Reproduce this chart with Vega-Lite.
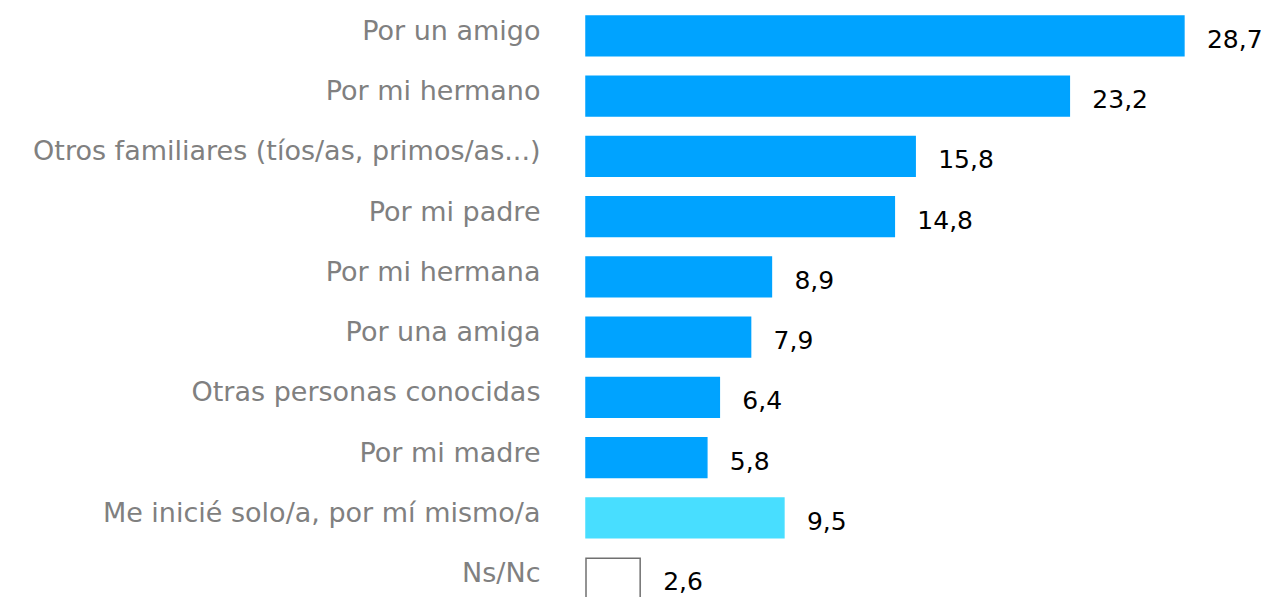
{
  "$schema": "https://vega.github.io/schema/vega-lite/v6.json",
  "autosize": {"type": "none"},
  "width": 625,
  "height": 602.5,
  "padding": {"left": 586, "top": 5.75, "right": 53, "bottom": 0},
  "background": "white",
  "config": {
    "view": {"stroke": null},
    "locale": {"number": {"decimal": ",", "thousands": ".", "grouping": [3], "currency": ["", " €"]}}
  },
  "data": {
    "values": [
      {"categoria": "Por un amigo", "valor": 28.7, "tipo": "persona"},
      {"categoria": "Por mi hermano", "valor": 23.2, "tipo": "persona"},
      {"categoria": "Otros familiares (tíos/as, primos/as...)", "valor": 15.8, "tipo": "persona"},
      {"categoria": "Por mi padre", "valor": 14.8, "tipo": "persona"},
      {"categoria": "Por mi hermana", "valor": 8.9, "tipo": "persona"},
      {"categoria": "Por una amiga", "valor": 7.9, "tipo": "persona"},
      {"categoria": "Otras personas conocidas", "valor": 6.4, "tipo": "persona"},
      {"categoria": "Por mi madre", "valor": 5.8, "tipo": "persona"},
      {"categoria": "Me inicié solo/a, por mí mismo/a", "valor": 9.5, "tipo": "solo"},
      {"categoria": "Ns/Nc", "valor": 2.6, "tipo": "nsnc"}
    ]
  },
  "encoding": {
    "y": {
      "field": "categoria",
      "type": "nominal",
      "sort": null,
      "scale": {"paddingInner": 0.344, "paddingOuter": 0.172},
      "axis": {
        "title": null,
        "domain": false,
        "ticks": false,
        "labelPadding": 46,
        "labelFont": "DejaVu Sans",
        "labelFontSize": 27,
        "labelColor": "#808080",
        "labelBaseline": "alphabetic",
        "labelOffset": 4,
        "labelLimit": 700
      }
    },
    "x": {
      "field": "valor",
      "type": "quantitative",
      "scale": {"domain": [0, 30], "nice": false},
      "axis": null
    }
  },
  "layer": [
    {
      "mark": {"type": "bar", "strokeWidth": 1.5},
      "encoding": {
        "fill": {
          "field": "tipo",
          "type": "nominal",
          "scale": {"domain": ["persona", "solo", "nsnc"], "range": ["#00a3ff", "#48deff", "#ffffff"]},
          "legend": null
        },
        "stroke": {
          "field": "tipo",
          "type": "nominal",
          "scale": {"domain": ["persona", "solo", "nsnc"], "range": ["#00a3ff", "#48deff", "#707070"]},
          "legend": null
        }
      }
    },
    {
      "mark": {
        "type": "text",
        "align": "left",
        "baseline": "alphabetic",
        "dx": 23,
        "dy": 12,
        "font": "DejaVu Sans",
        "fontSize": 25,
        "color": "#000000"
      },
      "encoding": {
        "text": {"field": "valor", "type": "quantitative", "format": ".1f"}
      }
    }
  ]
}
